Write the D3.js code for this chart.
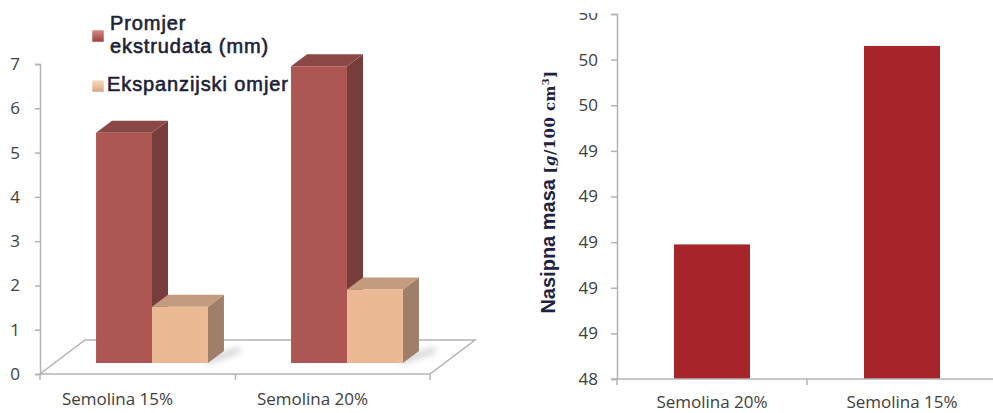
<!DOCTYPE html>
<html>
<head>
<meta charset="utf-8">
<script src="https://cdn.jsdelivr.net/npm/d3@7"></script>
<style>
  html, body { margin: 0; padding: 0; background: #fff; }
  svg { display: block; }
</style>
</head>
<body>
<svg id="chart" width="993" height="413"></svg>
<script>
// ---- data: left 3D column chart ----
const categoriesLeft = ["Semolina 15%", "Semolina 20%"];
const seriesLeft = ["Promjer ekstrudata (mm)", "Ekspanzijski omjer"];
const promjerEkstrudata = [5.2, 6.7];
const ekspanzijskiOmjer = [1.27, 1.66];
const ticksLeft = [0, 1, 2, 3, 4, 5, 6, 7];

// ---- data: right column chart ----
const categoriesRight = ["Semolina 20%", "Semolina 15%"];
const nasipnaMasa = [48.99, 49.86];
const ticksRight = [48.4, 48.6, 48.8, 49.0, 49.2, 49.4, 49.6, 49.8, 50.0];

const svg = d3.select("#chart");
const axisColor = "#b4b4b4";
const labelColor = "#404040";
const tickFont = "'Open Sans', sans-serif";

// ================= left chart =================
const left = svg.append("g");
const yL = d3.scaleLinear().domain([0, 7]).range([374, 64]);
const floorL = { x0: 40, x1: 430 };
const depth = { dx: 45, dy: -34 };        // floor depth vector
const barShift = { dx: 14.5, dy: -11 };   // bars sit a third of the way into the floor
const boxDepth = { dx: 16, dy: -12 };     // thickness of each column

const x0L = d3.scaleBand().domain(categoriesLeft)
  .range([floorL.x0, floorL.x1]).paddingInner(0.426).paddingOuter(0.213);
const x1L = d3.scaleBand().domain(seriesLeft).range([0, x0L.bandwidth()]);

// floor parallelogram
const y0 = yL(0);
left.append("polygon")
  .attr("points", [
    [floorL.x0, y0], [floorL.x1, y0],
    [floorL.x1 + depth.dx, y0 + depth.dy], [floorL.x0 + depth.dx, y0 + depth.dy]
  ].map(p => p.join(",")).join(" "))
  .attr("fill", "#fff").attr("stroke", axisColor).attr("stroke-width", 1.5);

// value axis
const axL = left.append("g").attr("transform", `translate(${floorL.x0},0)`)
  .call(d3.axisLeft(yL).tickValues(ticksLeft).tickSize(5).tickPadding(15).tickFormat(d3.format("d")));
axL.select(".domain").attr("stroke", axisColor).attr("stroke-width", 1.5);
axL.selectAll(".tick line").attr("stroke", axisColor).attr("stroke-width", 1.5);
axL.selectAll(".tick text").attr("fill", labelColor)
  .style("font-family", tickFont).style("font-size", "17px");

// category ticks below the front floor edge
const catEdges = [floorL.x0, (floorL.x0 + floorL.x1) / 2 + 0.5, floorL.x1];
left.selectAll("line.cat").data(catEdges).join("line")
  .attr("x1", d => d).attr("x2", d => d).attr("y1", y0).attr("y2", y0 + 6)
  .attr("stroke", axisColor).attr("stroke-width", 1.5);

// soft floor shadows
const defs = svg.append("defs");
defs.append("filter").attr("id", "soft").attr("x", "-50%").attr("y", "-50%")
  .attr("width", "200%").attr("height", "200%")
  .append("feGaussianBlur").attr("stdDeviation", 3);

const palette = {
  "Promjer ekstrudata (mm)": { front: "#ad5755", top: "#8a4846", side: "#763d3b" },
  "Ekspanzijski omjer": { front: "#ebba95", top: "#c39c80", side: "#9f7f69" }
};

const boxes = [];
categoriesLeft.forEach((c, i) => {
  boxes.push({ cat: c, s: seriesLeft[0], v: promjerEkstrudata[i] });
  boxes.push({ cat: c, s: seriesLeft[1], v: ekspanzijskiOmjer[i] });
});

categoriesLeft.forEach(c => {
  const xs = x0L(c) + barShift.dx;
  const xe = xs + x0L.bandwidth();
  const yb = y0 + barShift.dy;
  left.append("polygon")
    .attr("points", [[xe - 4, yb + 2], [xe + boxDepth.dx + 16, yb + boxDepth.dy + 2],
                     [xe + boxDepth.dx + 16, yb + boxDepth.dy - 4], [xe, yb - 6]]
      .map(p => p.join(",")).join(" "))
    .attr("fill", "#9a9a9a").attr("opacity", 0.45).attr("filter", "url(#soft)");
});

const barG = left.append("g");
boxes.forEach(b => {
  const col = palette[b.s];
  const x = x0L(b.cat) + x1L(b.s) + barShift.dx;
  const w = x1L.bandwidth();
  const yb = yL(0) + barShift.dy;
  const yt = yL(b.v) + barShift.dy;
  const { dx, dy } = boxDepth;
  const g = barG.append("g");
  g.append("polygon")
    .attr("points", [[x + w, yt], [x + w + dx, yt + dy], [x + w + dx, yb + dy], [x + w, yb]]
      .map(p => p.join(",")).join(" "))
    .attr("fill", col.side);
  g.append("polygon")
    .attr("points", [[x, yt], [x + dx, yt + dy], [x + w + dx, yt + dy], [x + w, yt]]
      .map(p => p.join(",")).join(" "))
    .attr("fill", col.top);
  g.append("rect").attr("x", x).attr("y", yt).attr("width", w).attr("height", yb - yt)
    .attr("fill", col.front);
});

// category labels
left.selectAll("text.cat").data(categoriesLeft).join("text")
  .attr("x", d => x0L(d) - x0L.step() * 0.213 + x0L.step() / 2 - 20)
  .attr("y", 405)
  .attr("text-anchor", "middle").attr("fill", labelColor)
  .style("font-family", tickFont).style("font-size", "17px")
  .text(d => d);

// legend
const lg = defs.append("linearGradient").attr("id", "lgRed").attr("x1", 0).attr("y1", 0).attr("x2", 0).attr("y2", 1);
lg.append("stop").attr("offset", "0%").attr("stop-color", "#d98a88");
lg.append("stop").attr("offset", "100%").attr("stop-color", "#993f3d");
const lo = defs.append("linearGradient").attr("id", "lgOrange").attr("x1", 0).attr("y1", 0).attr("x2", 0).attr("y2", 1);
lo.append("stop").attr("offset", "0%").attr("stop-color", "#f8dcc4");
lo.append("stop").attr("offset", "100%").attr("stop-color", "#d9a47f");

const legendItems = [
  { lines: ["Promjer", "ekstrudata (mm)"], fill: "url(#lgRed)", sq: 30, base: 30, x: 110 },
  { lines: ["Ekspanzijski omjer"], fill: "url(#lgOrange)", sq: 80, base: 91, x: 107 }
];
const legend = left.append("g");
legendItems.forEach(it => {
  legend.append("rect").attr("x", 92).attr("y", it.sq).attr("width", 12).attr("height", 12)
    .attr("fill", it.fill).attr("stroke", "#ffffff").attr("stroke-width", 0.5);
  const t = legend.append("text")
    .attr("fill", "#1d1f38").attr("stroke", "#1d1f38").attr("stroke-width", 0.6)
    .style("font-family", "'Liberation Sans', Arial, sans-serif")
    .style("font-size", "20px").style("letter-spacing", "0.9px");
  it.lines.forEach((ln, k) => {
    t.append("tspan").attr("x", it.x).attr("y", it.base + k * 23).text(ln);
  });
});

// ================= right chart =================
const right = svg.append("g");
const yR = d3.scaleLinear().domain([48.4, 50.0]).range([379, 14]);
const xR = d3.scaleBand().domain(categoriesRight).range([617, 997])
  .paddingInner(0.6).paddingOuter(0.3);

// the topmost tick label is cropped at the upper edge of the plot
defs.append("clipPath").attr("id", "clipTop")
  .append("rect").attr("x", -700).attr("y", 13).attr("width", 1400).attr("height", 400);

right.selectAll("rect.bar").data(categoriesRight).join("rect")
  .attr("x", d => xR(d)).attr("width", xR.bandwidth())
  .attr("y", (d, i) => yR(nasipnaMasa[i]))
  .attr("height", (d, i) => yR(48.4) - yR(nasipnaMasa[i]))
  .attr("fill", "#a6242a");

const axR = right.append("g").attr("transform", "translate(617,0)")
  .attr("clip-path", "url(#clipTop)")
  .call(d3.axisLeft(yR).tickValues(ticksRight).tickSize(6).tickPadding(13)
    .tickFormat(d3.format(".0f")));
axR.select(".domain").attr("stroke", axisColor).attr("stroke-width", 1.5);
axR.selectAll(".tick line").attr("stroke", axisColor).attr("stroke-width", 1.5);
axR.selectAll(".tick text").attr("fill", labelColor)
  .style("font-family", tickFont).style("font-size", "17px");

// category axis
const baseR = yR(48.4);
right.append("line").attr("x1", 611).attr("x2", 993).attr("y1", baseR).attr("y2", baseR)
  .attr("stroke", axisColor).attr("stroke-width", 1.5);
right.selectAll("line.ct").data([617, xR(categoriesRight[1]) - xR.step() * 0.3]).join("line")
  .attr("x1", d => d).attr("x2", d => d).attr("y1", baseR).attr("y2", baseR + 6)
  .attr("stroke", axisColor).attr("stroke-width", 1.5);

right.selectAll("text.cat").data(categoriesRight).join("text")
  .attr("x", d => xR(d) + xR.bandwidth() / 2).attr("y", 408)
  .attr("text-anchor", "middle").attr("fill", labelColor)
  .style("font-family", tickFont).style("font-size", "17px")
  .text(d => d);

// value axis title
const title = right.append("text")
  .attr("transform", "translate(555,192) rotate(-90)")
  .attr("text-anchor", "middle").attr("fill", "#1d2340");
title.append("tspan")
  .style("font-family", "'Liberation Sans', Arial, sans-serif").style("font-size", "20px")
  .style("font-weight", "bold")
  .text("Nasipna masa ");
const unit = title.append("tspan")
  .style("font-family", "'DejaVu Serif', serif").style("font-size", "15px")
  .style("font-weight", "bold").style("letter-spacing", "0.4px");
unit.append("tspan").text("[");
unit.append("tspan").style("font-style", "italic").text("g");
unit.append("tspan").text("/100 cm");
unit.append("tspan").attr("dy", -6).style("font-size", "10px").text("3");
unit.append("tspan").attr("dy", 6).text("]");
</script>
</body>
</html>
